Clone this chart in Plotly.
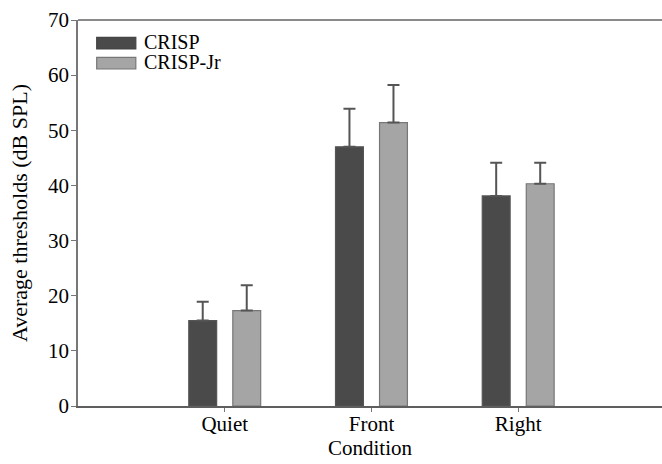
import plotly.graph_objects as go

categories = ["Quiet", "Front", "Right"]
crisp = [15.5, 47.0, 38.1]
crisp_err = [3.4, 6.9, 6.0]
crisp_jr = [17.3, 51.4, 40.3]
crisp_jr_err = [4.6, 6.8, 3.8]
series_names = ["CRISP", "CRISP-Jr"]
y_ticks = [0, 10, 20, 30, 40, 50, 60, 70]

FONT = "Liberation Serif, Times New Roman, serif"
dark = "#4a4a4a"
light = "#a5a5a5"

fig = go.Figure()
fig.add_trace(go.Bar(
    x=categories, y=crisp, name=series_names[0],
    width=0.19, offset=-0.245,
    marker=dict(color=dark, line=dict(color="#555555", width=1.2)),
    error_y=dict(type="data", symmetric=False, array=crisp_err,
                 arrayminus=[0] * len(crisp), color="#555555",
                 thickness=2, width=6),
    showlegend=False,
))
fig.add_trace(go.Bar(
    x=categories, y=crisp_jr, name=series_names[1],
    width=0.19, offset=0.055,
    marker=dict(color=light, line=dict(color="#777777", width=1.2)),
    error_y=dict(type="data", symmetric=False, array=crisp_jr_err,
                 arrayminus=[0] * len(crisp_jr), color="#555555",
                 thickness=2, width=6),
    showlegend=False,
))

# custom legend (swatches + labels)
legend_items = [(series_names[0], dark, "#444444"), (series_names[1], light, "#777777")]
for i, (name, col, lc) in enumerate(legend_items):
    y0 = 0.955 - i * 0.052
    fig.add_shape(type="rect", xref="paper", yref="paper",
                  x0=0.032, x1=0.099, y0=y0 - 0.03, y1=y0,
                  fillcolor=col, line=dict(color=lc, width=1.2))
    fig.add_annotation(xref="paper", yref="paper", x=0.11, y=y0 - 0.013,
                       text=name, showarrow=False, xanchor="left", yanchor="middle",
                       font=dict(family=FONT, size=20, color="#000000"),
                       height=18, valign="middle")

# top frame line
fig.add_shape(type="line", xref="paper", yref="paper", x0=0, x1=1, y0=1, y1=1,
              line=dict(color="#8a8a8a", width=2))

fig.update_layout(
    width=662, height=464,
    margin=dict(l=78, r=0, t=20, b=58),
    plot_bgcolor="white", paper_bgcolor="white",
    barmode="overlay",
    font=dict(family=FONT, size=21, color="#000000"),
    xaxis=dict(
        range=[-1.0, 2.98], showline=True, linecolor="#5e5e5e", linewidth=2,
        ticks="outside", ticklen=4, tickcolor="#777777", showgrid=False,
        ticklabelstandoff=-6,
        title=dict(text="Condition", standoff=2, font=dict(size=21)),
        tickfont=dict(size=21, color="#000000"),
    ),
    yaxis=dict(
        range=[0, 70], tickvals=y_ticks, showline=True, linecolor="#777777",
        linewidth=1.5, ticks="outside", ticklen=5, tickcolor="#777777",
        showgrid=False, zeroline=False, ticklabelstandoff=-2,
        title=dict(text="Average thresholds (dB SPL)", standoff=14, font=dict(size=22)),
        tickfont=dict(size=21, color="#000000"),
    ),
)

fig.write_html("out.html")
